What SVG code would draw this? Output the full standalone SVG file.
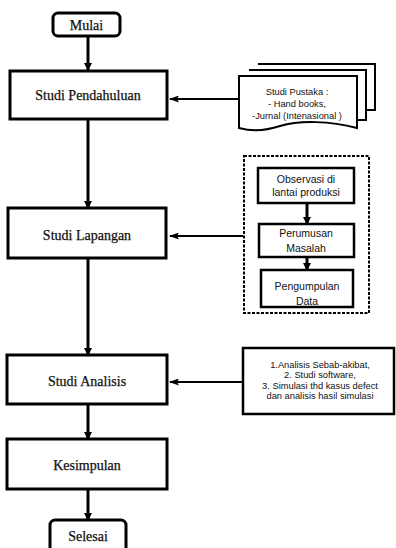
<svg xmlns="http://www.w3.org/2000/svg" width="396" height="548" viewBox="0 0 396 548">
<style>
.box{fill:#fff;stroke:#000;stroke-width:3}
.sbox{fill:#fff;stroke:#000;stroke-width:2.5}
.doc{fill:#fff;stroke:#000;stroke-width:2}
.serif{font-family:"Liberation Serif","Times New Roman",serif;font-size:14px;fill:#111;text-anchor:middle;stroke:#111;stroke-width:0.25}
.sans{font-family:"Liberation Sans",Arial,sans-serif;font-size:10.5px;fill:#111;text-anchor:middle}
.tiny{font-family:"Liberation Sans",Arial,sans-serif;font-size:9.3px;fill:#111;text-anchor:middle}
.conn{stroke:#000;fill:none}
</style>
<defs>
<marker id="ah" markerWidth="8" markerHeight="8" refX="7" refY="4" orient="auto" markerUnits="userSpaceOnUse">
<path d="M0,0 L8,4 L0,8 Z" fill="#000"/>
</marker>
<marker id="ahs" markerWidth="10" markerHeight="7" refX="9" refY="3.5" orient="auto" markerUnits="userSpaceOnUse">
<path d="M0,0 L10,3.5 L0,7 L2,3.5 Z" fill="#000"/>
</marker>
</defs>
<g id="lapangan-group">
<rect x="244" y="156" width="125" height="157" fill="#fff" stroke="#000" stroke-width="2" stroke-dasharray="3,1.5"/>
</g>
<g id="connectors">
<line class="conn" x1="88" y1="36" x2="88" y2="70" stroke-width="3" marker-end="url(#ah)"/>
<line class="conn" x1="88" y1="120" x2="88" y2="208" stroke-width="3" marker-end="url(#ah)"/>
<line class="conn" x1="88" y1="259" x2="88" y2="355" stroke-width="3" marker-end="url(#ah)"/>
<line class="conn" x1="88" y1="405" x2="88" y2="439" stroke-width="3" marker-end="url(#ah)"/>
<line class="conn" x1="88" y1="490" x2="88" y2="520" stroke-width="3" marker-end="url(#ah)"/>
<line class="conn" x1="240" y1="99" x2="170" y2="99" stroke-width="2" marker-end="url(#ahs)"/>
<line class="conn" x1="243" y1="236" x2="170" y2="236" stroke-width="2" marker-end="url(#ahs)"/>
<line class="conn" x1="243" y1="382" x2="170" y2="382" stroke-width="2" marker-end="url(#ahs)"/>
<line class="conn" x1="307" y1="203" x2="307" y2="224" stroke-width="3" marker-end="url(#ah)"/>
<line class="conn" x1="307" y1="257" x2="307" y2="270" stroke-width="3" marker-end="url(#ah)"/>
</g>
<g id="mulai">
<rect x="53" y="13" width="67" height="23" rx="5" class="box"/>
<text x="86.5" y="29.5" class="serif">Mulai</text>
</g>
<g id="studi-pendahuluan">
<rect x="10" y="71" width="157" height="48" class="box"/>
<text x="88" y="100" class="serif">Studi Pendahuluan</text>
</g>
<g id="studi-pustaka">
<path d="M258,64 H375 V110 H366" class="doc"/>
<path d="M249,70 H366 V120 H357" class="doc"/>
<path d="M239,76 H357 V128 C330,121 300,120 280,126 C265,131 250,131 239,128 Z" class="doc"/>
<text x="297" y="95" class="tiny">Studi Pustaka :</text>
<text x="297" y="107" class="tiny">- Hand books,</text>
<text x="297" y="119" class="tiny">-Jurnal (Intenasional )</text>
</g>
<g id="studi-lapangan">
<rect x="8" y="208" width="158" height="50" class="box"/>
<text x="87" y="240" class="serif">Studi Lapangan</text>
</g>
<g id="observasi">
<rect x="258" y="168" width="96" height="35" class="sbox"/>
<text x="306" y="183" class="sans">Observasi di</text>
<text x="306" y="196" class="sans">lantai produksi</text>
</g>
<g id="perumusan">
<rect x="259" y="224" width="95" height="33" class="sbox"/>
<text x="306" y="237" class="sans">Perumusan</text>
<text x="306" y="252" class="sans">Masalah</text>
</g>
<g id="pengumpulan">
<rect x="261" y="270" width="92" height="37" class="sbox"/>
<text x="307" y="290" class="sans">Pengumpulan</text>
<text x="307" y="305" class="sans">Data</text>
</g>
<g id="studi-analisis">
<rect x="7" y="355" width="160" height="49" class="box"/>
<text x="87" y="386" class="serif">Studi Analisis</text>
</g>
<g id="analisis-list">
<rect x="243" y="348" width="151" height="66" class="sbox"/>
<text x="320" y="368" class="tiny">1.Analisis Sebab-akibat,</text>
<text x="320" y="378" class="tiny">2. Studi software,</text>
<text x="320" y="389" class="tiny">3. Simulasi  thd kasus defect</text>
<text x="320" y="399" class="tiny">dan analisis  hasil simulasi</text>
</g>
<g id="kesimpulan">
<rect x="7" y="439" width="160" height="50" class="box"/>
<text x="87" y="470" class="serif">Kesimpulan</text>
</g>
<g id="selesai">
<rect x="50" y="520" width="76" height="40" rx="5" class="box"/>
<text x="88" y="541" class="serif">Selesai</text>
</g>
</svg>
